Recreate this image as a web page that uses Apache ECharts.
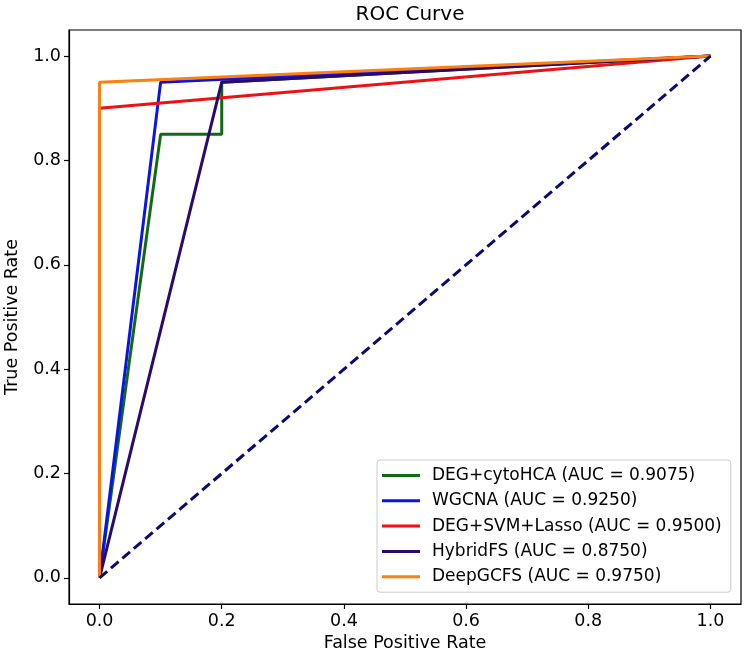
<!DOCTYPE html>
<html>
<head>
<meta charset="utf-8">
<script src="https://cdn.jsdelivr.net/npm/echarts@6/dist/echarts.min.js"></script>
<style>
  html, body { margin: 0; padding: 0; background: #fff; }
  #chart { width: 750px; height: 657px; }
</style>
</head>
<body>
<div id="chart"></div>
<script>
// Données (points des courbes ROC)
const noms = [
    'DEG+cytoHCA (AUC = 0.9075)',
    'WGCNA (AUC = 0.9250)',
    'DEG+SVM+Lasso (AUC = 0.9500)',
    'HybridFS (AUC = 0.8750)',
    'DeepGCFS (AUC = 0.9750)'
];
const couleurs = ['#0f6b12', '#0a14e6', '#ee1111', '#2a0a6e', '#ff7f0e'];
const rocCytoHCA = [[0, 0], [0.1, 0.85], [0.2, 0.85], [0.2, 0.95], [1, 1]];
const rocWGCNA = [[0, 0], [0.1, 0.95], [1, 1]];
const rocSvmLasso = [[0, 0], [0, 0.9], [1, 1]];
const rocHybridFS = [[0, 0], [0.2, 0.95], [1, 1]];
const rocDeepGCFS = [[0, 0], [0, 0.95], [1, 1]];
const diagonale = [[0, 0], [1, 1]];
const graduations = [0, 0.2, 0.4, 0.6, 0.8, 1.0];

const courbes = [rocCytoHCA, rocWGCNA, rocSvmLasso, rocHybridFS, rocDeepGCFS];

const police = 'DejaVu Sans';

function axeCommun() {
    return {
        type: 'value',
        min: -0.05,
        max: 1.05,
        axisLine: { show: true, onZero: false, lineStyle: { color: '#000', width: 1.2 } },
        axisTick: { show: true, length: 5, customValues: graduations, lineStyle: { color: '#000', width: 1.2 } },
        axisLabel: {
            customValues: graduations,
            color: '#000',
            fontSize: 17.5,
            fontFamily: police,
            formatter: v => v.toFixed(1)
        },
        splitLine: { show: false },
        nameLocation: 'middle',
        nameTextStyle: { color: '#000', fontSize: 17.5, fontFamily: police }
    };
}

const chart = echarts.init(document.getElementById('chart'));

const series = courbes.map((pts, i) => ({
    name: noms[i],
    type: 'line',
    data: pts,
    showSymbol: false,
    symbol: 'none',
    lineStyle: { color: couleurs[i], width: 3 },
    itemStyle: { color: couleurs[i] },
    animation: false,
    z: 2 + i
}));

series.push({
    name: 'diag',
    type: 'line',
    data: diagonale,
    symbol: 'none',
    lineStyle: { color: '#0a0a70', width: 3, type: [10, 5] },
    animation: false,
    z: 10
});

const option = {
    backgroundColor: '#fff',
    title: {
        text: 'ROC Curve',
        left: 405,
        textAlign: 'center',
        top: 0,
        textStyle: { color: '#000', fontSize: 20, fontWeight: 'normal', fontFamily: police }
    },
    grid: {
        left: 69, right: 9, top: 30, bottom: 53,
        outerBoundsMode: 'none',
        containLabel: false,
        show: true, borderColor: '#000', borderWidth: 1.2
    },
    xAxis: Object.assign(axeCommun(), {
        name: 'False Positive Rate',
        nameGap: 29
    }),
    yAxis: Object.assign(axeCommun(), {
        name: 'True Positive Rate',
        nameGap: 48
    }),
    legend: {
        data: noms,
        orient: 'vertical',
        left: 377,
        top: 460,
        icon: 'rect',
        itemWidth: 38,
        itemHeight: 3,
        itemGap: 8.3,
        padding: [7, 9, 7, 5],
        backgroundColor: 'rgba(255,255,255,0.8)',
        borderColor: '#cccccc',
        borderWidth: 1,
        borderRadius: 3,
        textStyle: { color: '#000', fontSize: 17, fontFamily: police, padding: [0, 0, 0, 7] }
    },
    series: series
};

chart.setOption(option);
</script>
</body>
</html>
